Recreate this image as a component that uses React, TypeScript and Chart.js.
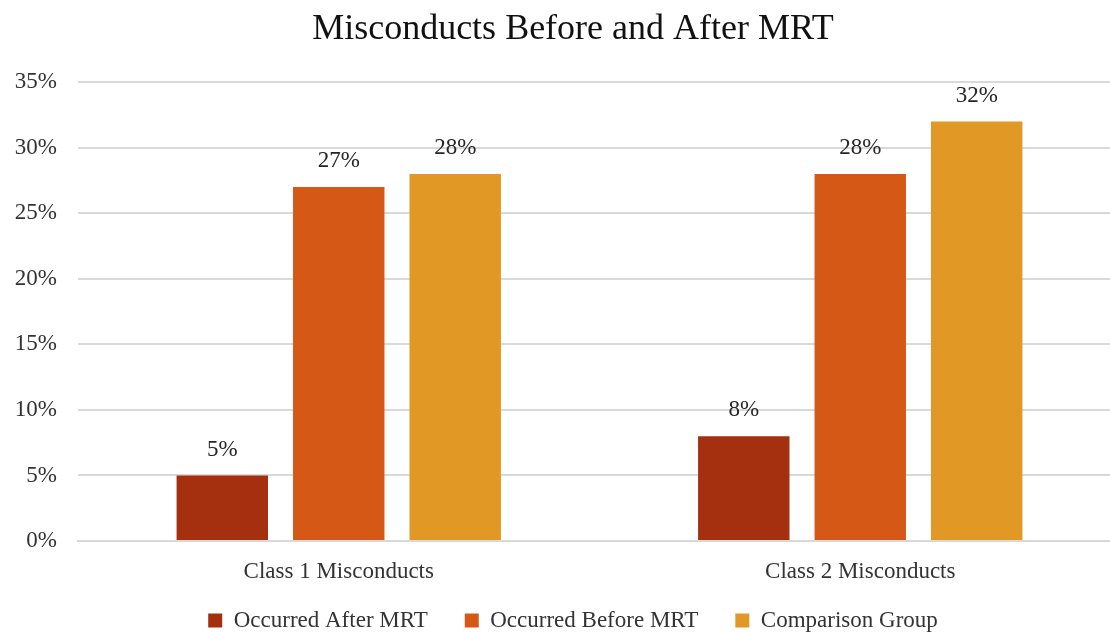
import React, { useEffect, useRef } from "react";
import { Chart, registerables } from "chart.js";

Chart.register(...registerables);

const categories = ["Class 1 Misconducts", "Class 2 Misconducts"];
const seriesNames = ["Occurred After MRT", "Occurred Before MRT", "Comparison Group"];
const afterMRT = [0.05, 0.08];
const beforeMRT = [0.27, 0.28];
const comparison = [0.28, 0.32];
const colors = ["#A5300F", "#D55816", "#E19825"];

const FONT = "'Liberation Serif', 'DejaVu Serif', serif";
const TEXT = "#333333";

const dataLabelPlugin = {
  id: "dataLabels",
  afterDatasetsDraw(chart: any) {
    const ctx = chart.ctx;
    ctx.save();
    ctx.font = `23px ${FONT}`;
    ctx.fillStyle = "#262626";
    ctx.textAlign = "center";
    ctx.textBaseline = "middle";
    chart.data.datasets.forEach((ds: any, i: number) => {
      const meta = chart.getDatasetMeta(i);
      meta.data.forEach((bar: any, j: number) => {
        const v = ds.data[j];
        ctx.fillText(Math.round(v * 100) + "%", bar.x, bar.y - 26);
      });
    });
    ctx.restore();
  },
};

// The original plot area runs a little past the right edge of the picture.
const layoutTweakPlugin = {
  id: "layoutTweak",
  afterLayout(chart: any) {
    if (chart.legend) {
      chart.legend.top = 572;
      chart.legend.bottom = 632;
      chart.legend.height = 60;
    }
    const x = chart.scales.x;
    const area = chart.chartArea;
    const newRight = area.right + 11;
    x.right = newRight;
    x.width = newRight - x.left;
    x.configure();
    area.right = newRight;
    area.width = newRight - area.left;
  },
};

export default function App() {
  const ref = useRef<HTMLCanvasElement>(null);
  useEffect(() => {
    document.body.style.margin = "0";
    const chart = new Chart(ref.current!, {
      type: "bar",
      data: {
        labels: categories,
        datasets: [afterMRT, beforeMRT, comparison].map((d, i) => ({
          label: seriesNames[i],
          data: d,
          backgroundColor: colors[i],
          categoryPercentage: 0.67,
          barPercentage: 0.785,
        })),
      },
      options: {
        animation: false,
        responsive: false,
        maintainAspectRatio: false,
        layout: { padding: { left: 0, right: -36, top: 8, bottom: 0 } },
        plugins: {
          title: {
            display: true,
            text: "Misconducts Before and After MRT",
            font: { family: FONT, size: 36, weight: "normal" },
            color: "#111",
            padding: { top: 0, bottom: 31 },
          },
          legend: {
            position: "bottom",
            maxHeight: 40,
            labels: {
              font: { family: FONT, size: 23 },
              color: TEXT,
              boxWidth: 14,
              boxHeight: 14,
              padding: 37,
            },
          },
          tooltip: { enabled: false },
        },
        scales: {
          x: {
            grid: { display: false, drawTicks: false },
            border: { color: "#d9d9d9", width: 2 },
            ticks: { font: { family: FONT, size: 23 }, color: TEXT, padding: 17 },
            afterFit: (scale: any) => {
              scale.height = 51;
            },
          },
          y: {
            min: 0,
            max: 0.35,
            grid: { color: "#d9d9d9", lineWidth: 2, drawTicks: false },
            border: { display: false },
            ticks: {
              stepSize: 0.05,
              padding: 21,
              font: { family: FONT, size: 23 },
              color: TEXT,
              callback: (v: any) => Math.round(Number(v) * 100) + "%",
            },
            afterFit: (scale: any) => {
              scale.width = 78;
            },
          },
        },
      },
      plugins: [dataLabelPlugin, layoutTweakPlugin],
    });
    return () => chart.destroy();
  }, []);
  return (
    <div style={{ width: 1110, height: 632 }}>
      <canvas ref={ref} width={1110} height={632} />
    </div>
  );
}
